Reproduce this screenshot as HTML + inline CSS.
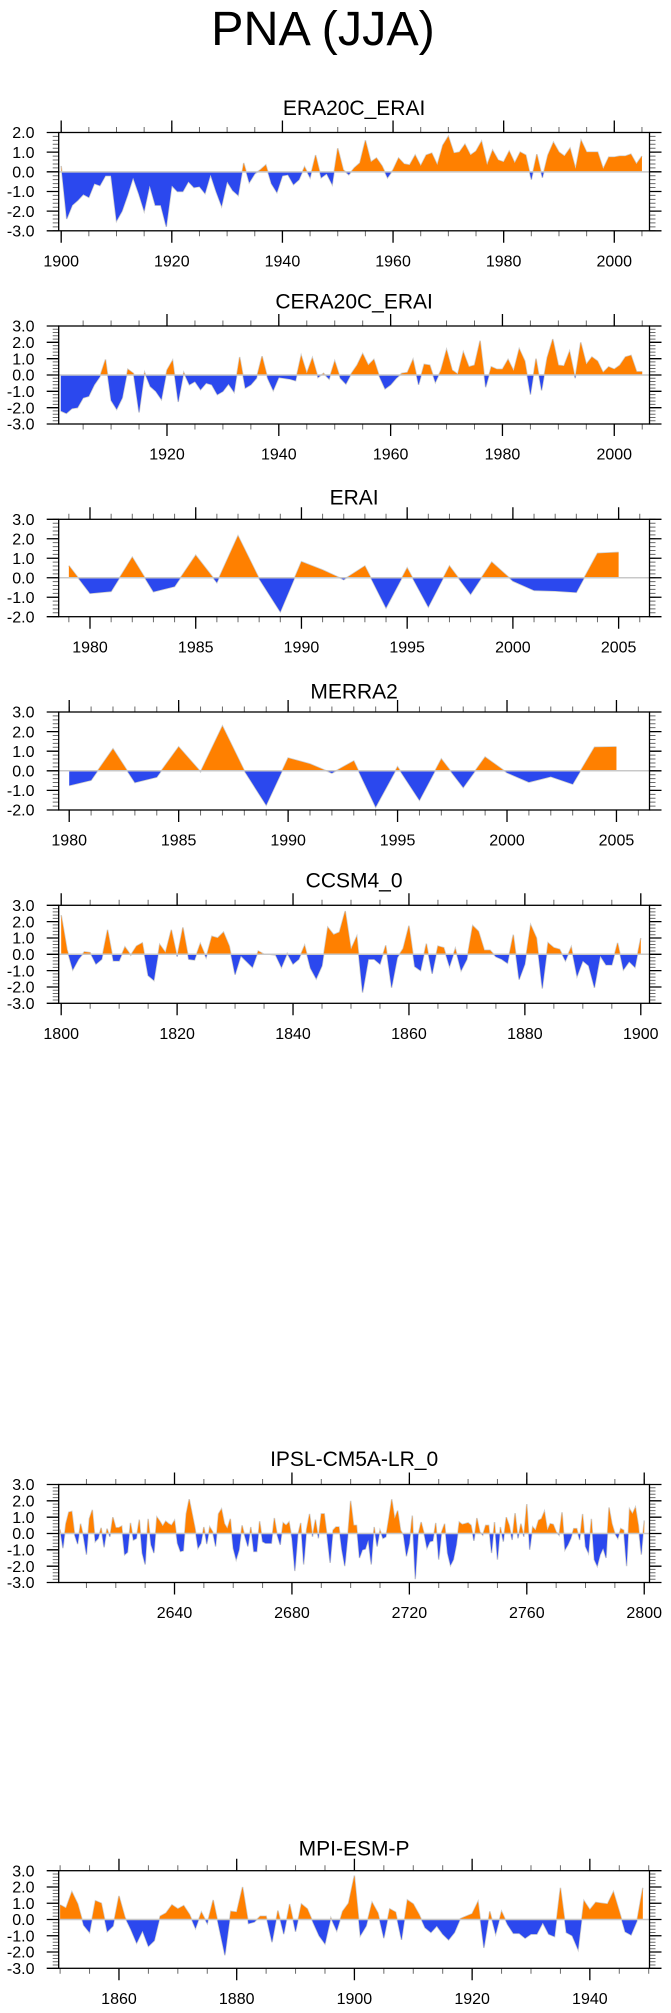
<!DOCTYPE html>
<html><head><meta charset="utf-8"><style>
html,body{margin:0;padding:0;background:#fff;}
svg{display:block;}
text{font-family:"Liberation Sans",Arial,sans-serif;fill:#000;}
.tl{font-size:16px;}
.yl{text-anchor:end;}
.xl{text-anchor:middle;}
.pt{font-size:21px;text-anchor:middle;}
.f{fill:none;stroke:#000;stroke-width:1.3;}
.mj{fill:none;stroke:#000;stroke-width:1.3;}
.mn{fill:none;stroke:#6a6a6a;}
.ln{fill:none;stroke:#cfcfcf;stroke-width:1.5;vector-effect:non-scaling-stroke;}
.po{fill:#ff8000;}
.ne{fill:#2b48ee;}
.zr{stroke:#c8c8c8;stroke-width:1.5;}
</style></head><body>
<svg width="671" height="2013" viewBox="0 0 671 2013" xmlns="http://www.w3.org/2000/svg">
<defs>
<clipPath id="cp" clipPathUnits="userSpaceOnUse"><rect x="-100000" y="0" width="200000" height="100"/></clipPath>
<clipPath id="cn" clipPathUnits="userSpaceOnUse"><rect x="-100000" y="-100" width="200000" height="100"/></clipPath>
</defs>
<rect width="671" height="2013" fill="#fff"/>
<text x="323" y="45" style="font-size:48.5px" text-anchor="middle">PNA (JJA)</text>

<!-- Panel 1 ERA20C_ERAI -->
<text class="pt" x="354.1" y="115">ERA20C_ERAI</text>
<g transform="translate(58.7,171.82) scale(5.531,-19.66) translate(-1899.55,0)">
<polyline class="ln" points="1900,0.3 1901,-2.4 1902,-1.7 1903,-1.45 1904,-1.15 1905,-1.3 1906,-0.6 1907,-0.7 1908,-0.2 1909,-0.2 1910,-2.5 1911,-2 1912,-1.2 1913,-0.3 1914,-1.1 1915,-2 1916,-0.7 1917,-1.7 1918,-1.7 1919,-2.8 1920,-0.7 1921,-1 1922,-1 1923,-0.5 1924,-0.8 1925,-0.75 1926,-1.1 1927,-0.15 1928,-1 1929,-1.75 1930,-0.5 1931,-0.95 1932,-1.2 1933,0.45 1934,-0.55 1935,-0.1 1936,0.1 1937,0.35 1938,-0.6 1939,-1.05 1940,-0.2 1941,-0.15 1942,-0.65 1943,-0.4 1944,0.25 1945,-0.3 1946,0.85 1947,-0.3 1948,-0.1 1949,-0.65 1950,1.2 1951,0.1 1952,-0.15 1953,0.2 1954,0.45 1955,1.6 1956,0.5 1957,0.7 1958,0.3 1959,-0.3 1960,0.1 1961,0.7 1962,0.4 1963,0.35 1964,0.85 1965,0.3 1966,0.85 1967,0.95 1968,0.35 1969,1.35 1970,1.8 1971,0.95 1972,1 1973,1.4 1974,0.85 1975,1.05 1976,1.55 1977,0.35 1978,1.1 1979,0.6 1980,0.5 1981,1.05 1982,0.45 1983,1 1984,0.85 1985,-0.4 1986,0.9 1987,-0.3 1988,0.85 1989,1.5 1990,1 1991,0.8 1992,1.2 1993,0.15 1994,1.6 1995,1 1996,1 1997,1 1998,0.15 1999,0.75 2000,0.75 2001,0.8 2002,0.8 2003,0.9 2004,0.4 2005,0.8"/>
<polygon class="po" clip-path="url(#cp)" points="1900,0 1900,0.3 1901,-2.4 1902,-1.7 1903,-1.45 1904,-1.15 1905,-1.3 1906,-0.6 1907,-0.7 1908,-0.2 1909,-0.2 1910,-2.5 1911,-2 1912,-1.2 1913,-0.3 1914,-1.1 1915,-2 1916,-0.7 1917,-1.7 1918,-1.7 1919,-2.8 1920,-0.7 1921,-1 1922,-1 1923,-0.5 1924,-0.8 1925,-0.75 1926,-1.1 1927,-0.15 1928,-1 1929,-1.75 1930,-0.5 1931,-0.95 1932,-1.2 1933,0.45 1934,-0.55 1935,-0.1 1936,0.1 1937,0.35 1938,-0.6 1939,-1.05 1940,-0.2 1941,-0.15 1942,-0.65 1943,-0.4 1944,0.25 1945,-0.3 1946,0.85 1947,-0.3 1948,-0.1 1949,-0.65 1950,1.2 1951,0.1 1952,-0.15 1953,0.2 1954,0.45 1955,1.6 1956,0.5 1957,0.7 1958,0.3 1959,-0.3 1960,0.1 1961,0.7 1962,0.4 1963,0.35 1964,0.85 1965,0.3 1966,0.85 1967,0.95 1968,0.35 1969,1.35 1970,1.8 1971,0.95 1972,1 1973,1.4 1974,0.85 1975,1.05 1976,1.55 1977,0.35 1978,1.1 1979,0.6 1980,0.5 1981,1.05 1982,0.45 1983,1 1984,0.85 1985,-0.4 1986,0.9 1987,-0.3 1988,0.85 1989,1.5 1990,1 1991,0.8 1992,1.2 1993,0.15 1994,1.6 1995,1 1996,1 1997,1 1998,0.15 1999,0.75 2000,0.75 2001,0.8 2002,0.8 2003,0.9 2004,0.4 2005,0.8 2005,0"/>
<polygon class="ne" clip-path="url(#cn)" points="1900,0 1900,0.3 1901,-2.4 1902,-1.7 1903,-1.45 1904,-1.15 1905,-1.3 1906,-0.6 1907,-0.7 1908,-0.2 1909,-0.2 1910,-2.5 1911,-2 1912,-1.2 1913,-0.3 1914,-1.1 1915,-2 1916,-0.7 1917,-1.7 1918,-1.7 1919,-2.8 1920,-0.7 1921,-1 1922,-1 1923,-0.5 1924,-0.8 1925,-0.75 1926,-1.1 1927,-0.15 1928,-1 1929,-1.75 1930,-0.5 1931,-0.95 1932,-1.2 1933,0.45 1934,-0.55 1935,-0.1 1936,0.1 1937,0.35 1938,-0.6 1939,-1.05 1940,-0.2 1941,-0.15 1942,-0.65 1943,-0.4 1944,0.25 1945,-0.3 1946,0.85 1947,-0.3 1948,-0.1 1949,-0.65 1950,1.2 1951,0.1 1952,-0.15 1953,0.2 1954,0.45 1955,1.6 1956,0.5 1957,0.7 1958,0.3 1959,-0.3 1960,0.1 1961,0.7 1962,0.4 1963,0.35 1964,0.85 1965,0.3 1966,0.85 1967,0.95 1968,0.35 1969,1.35 1970,1.8 1971,0.95 1972,1 1973,1.4 1974,0.85 1975,1.05 1976,1.55 1977,0.35 1978,1.1 1979,0.6 1980,0.5 1981,1.05 1982,0.45 1983,1 1984,0.85 1985,-0.4 1986,0.9 1987,-0.3 1988,0.85 1989,1.5 1990,1 1991,0.8 1992,1.2 1993,0.15 1994,1.6 1995,1 1996,1 1997,1 1998,0.15 1999,0.75 2000,0.75 2001,0.8 2002,0.8 2003,0.9 2004,0.4 2005,0.8 2005,0"/>
</g>
<line class="zr" x1="58.7" y1="171.82" x2="649.5" y2="171.82"/>
<path class="mn" stroke-width="6" stroke-dasharray="1 2.932" d="M55.7 132V231.3M652.5 132V231.3"/>
<path class="mn" stroke-width="5.5" stroke-dasharray="1 26.655" d="M60.69 129.75H642.45M60.69 233.55H642.45"/>
<path class="mj" d="M46.7 132.5H58.7M46.7 152.16H58.7M46.7 171.82H58.7M46.7 191.48H58.7M46.7 211.14H58.7M46.7 230.8H58.7M649.5 132.5H661.5M649.5 152.16H661.5M649.5 171.82H661.5M649.5 191.48H661.5M649.5 211.14H661.5M649.5 230.8H661.5M61.19 132.5V120.5M171.81 132.5V120.5M282.43 132.5V120.5M393.05 132.5V120.5M503.67 132.5V120.5M614.29 132.5V120.5M61.19 230.8V242.8M171.81 230.8V242.8M282.43 230.8V242.8M393.05 230.8V242.8M503.67 230.8V242.8M614.29 230.8V242.8"/>
<rect class="f" x="58.7" y="132.5" width="590.8" height="98.3"/>
<g class="tl yl"><text x="34.5" y="138.2">2.0</text><text x="34.5" y="157.86">1.0</text><text x="34.5" y="177.52">0.0</text><text x="34.5" y="197.18">-1.0</text><text x="34.5" y="216.84">-2.0</text><text x="34.5" y="236.5">-3.0</text></g>
<g class="tl xl"><text x="61.19" y="266.5">1900</text><text x="171.81" y="266.5">1920</text><text x="282.43" y="266.5">1940</text><text x="393.05" y="266.5">1960</text><text x="503.67" y="266.5">1980</text><text x="614.29" y="266.5">2000</text></g>

<!-- Panel 2 CERA20C_ERAI -->
<text class="pt" x="354.1" y="308.3">CERA20C_ERAI</text>
<g transform="translate(58.7,375) scale(5.591,-16.333) translate(-1900.63,0)">
<polyline class="ln" points="1901,-2.2 1902,-2.35 1903,-2.05 1904,-2 1905,-1.4 1906,-1.3 1907,-0.6 1908,-0.1 1909,0.95 1910,-1.55 1911,-2.1 1912,-1.4 1913,0.35 1914,0.1 1915,-2.3 1916,0.15 1917,-0.7 1918,-1 1919,-1.5 1920,0.3 1921,0.9 1922,-1.65 1923,0.15 1924,-0.6 1925,-0.4 1926,-0.9 1927,-0.5 1928,-0.6 1929,-1.2 1930,-1 1931,-0.55 1932,-1.05 1933,1.1 1934,-0.8 1935,-0.6 1936,-0.2 1937,1.15 1938,-0.2 1939,-0.95 1940,-0.15 1941,-0.2 1942,-0.25 1943,-0.35 1944,1.2 1945,0.1 1946,1.05 1947,-0.15 1948,0.1 1949,-0.25 1950,0.85 1951,-0.2 1952,-0.55 1953,0.1 1954,0.6 1955,1.3 1956,0.6 1957,0.95 1958,-0.1 1959,-0.85 1960,-0.6 1961,-0.2 1962,0.1 1963,0.15 1964,0.95 1965,-0.6 1966,0.65 1967,0.6 1968,-0.45 1969,0.3 1970,1.55 1971,0.3 1972,0.05 1973,1.4 1974,0.5 1975,0.6 1976,2.1 1977,-0.75 1978,0.5 1979,0.35 1980,0.35 1981,0.95 1982,0.25 1983,1.6 1984,0.85 1985,-1.2 1986,1 1987,-0.95 1988,1.05 1989,2.2 1990,0.6 1991,0.55 1992,1.45 1993,-0.2 1994,2 1995,0.65 1996,1.1 1997,0.85 1998,0.15 1999,0.5 2000,0.35 2001,0.6 2002,1.1 2003,1.2 2004,0.2 2005,0.2"/>
<polygon class="po" clip-path="url(#cp)" points="1901,0 1901,-2.2 1902,-2.35 1903,-2.05 1904,-2 1905,-1.4 1906,-1.3 1907,-0.6 1908,-0.1 1909,0.95 1910,-1.55 1911,-2.1 1912,-1.4 1913,0.35 1914,0.1 1915,-2.3 1916,0.15 1917,-0.7 1918,-1 1919,-1.5 1920,0.3 1921,0.9 1922,-1.65 1923,0.15 1924,-0.6 1925,-0.4 1926,-0.9 1927,-0.5 1928,-0.6 1929,-1.2 1930,-1 1931,-0.55 1932,-1.05 1933,1.1 1934,-0.8 1935,-0.6 1936,-0.2 1937,1.15 1938,-0.2 1939,-0.95 1940,-0.15 1941,-0.2 1942,-0.25 1943,-0.35 1944,1.2 1945,0.1 1946,1.05 1947,-0.15 1948,0.1 1949,-0.25 1950,0.85 1951,-0.2 1952,-0.55 1953,0.1 1954,0.6 1955,1.3 1956,0.6 1957,0.95 1958,-0.1 1959,-0.85 1960,-0.6 1961,-0.2 1962,0.1 1963,0.15 1964,0.95 1965,-0.6 1966,0.65 1967,0.6 1968,-0.45 1969,0.3 1970,1.55 1971,0.3 1972,0.05 1973,1.4 1974,0.5 1975,0.6 1976,2.1 1977,-0.75 1978,0.5 1979,0.35 1980,0.35 1981,0.95 1982,0.25 1983,1.6 1984,0.85 1985,-1.2 1986,1 1987,-0.95 1988,1.05 1989,2.2 1990,0.6 1991,0.55 1992,1.45 1993,-0.2 1994,2 1995,0.65 1996,1.1 1997,0.85 1998,0.15 1999,0.5 2000,0.35 2001,0.6 2002,1.1 2003,1.2 2004,0.2 2005,0.2 2005,0"/>
<polygon class="ne" clip-path="url(#cn)" points="1901,0 1901,-2.2 1902,-2.35 1903,-2.05 1904,-2 1905,-1.4 1906,-1.3 1907,-0.6 1908,-0.1 1909,0.95 1910,-1.55 1911,-2.1 1912,-1.4 1913,0.35 1914,0.1 1915,-2.3 1916,0.15 1917,-0.7 1918,-1 1919,-1.5 1920,0.3 1921,0.9 1922,-1.65 1923,0.15 1924,-0.6 1925,-0.4 1926,-0.9 1927,-0.5 1928,-0.6 1929,-1.2 1930,-1 1931,-0.55 1932,-1.05 1933,1.1 1934,-0.8 1935,-0.6 1936,-0.2 1937,1.15 1938,-0.2 1939,-0.95 1940,-0.15 1941,-0.2 1942,-0.25 1943,-0.35 1944,1.2 1945,0.1 1946,1.05 1947,-0.15 1948,0.1 1949,-0.25 1950,0.85 1951,-0.2 1952,-0.55 1953,0.1 1954,0.6 1955,1.3 1956,0.6 1957,0.95 1958,-0.1 1959,-0.85 1960,-0.6 1961,-0.2 1962,0.1 1963,0.15 1964,0.95 1965,-0.6 1966,0.65 1967,0.6 1968,-0.45 1969,0.3 1970,1.55 1971,0.3 1972,0.05 1973,1.4 1974,0.5 1975,0.6 1976,2.1 1977,-0.75 1978,0.5 1979,0.35 1980,0.35 1981,0.95 1982,0.25 1983,1.6 1984,0.85 1985,-1.2 1986,1 1987,-0.95 1988,1.05 1989,2.2 1990,0.6 1991,0.55 1992,1.45 1993,-0.2 1994,2 1995,0.65 1996,1.1 1997,0.85 1998,0.15 1999,0.5 2000,0.35 2001,0.6 2002,1.1 2003,1.2 2004,0.2 2005,0.2 2005,0"/>
</g>
<line class="zr" x1="58.7" y1="375" x2="649.5" y2="375"/>
<path class="mn" stroke-width="6" stroke-dasharray="1 2.2667" d="M55.7 325.5V424.5M652.5 325.5V424.5"/>
<path class="mn" stroke-width="5.5" stroke-dasharray="1 26.955" d="M82.63 323.25H642.73M82.63 426.75H642.73"/>
<path class="mj" d="M46.7 326H58.7M46.7 342.33H58.7M46.7 358.67H58.7M46.7 375H58.7M46.7 391.33H58.7M46.7 407.67H58.7M46.7 424H58.7M649.5 326H661.5M649.5 342.33H661.5M649.5 358.67H661.5M649.5 375H661.5M649.5 391.33H661.5M649.5 407.67H661.5M649.5 424H661.5M166.99 326V314M278.81 326V314M390.63 326V314M502.45 326V314M614.27 326V314M166.99 424V436M278.81 424V436M390.63 424V436M502.45 424V436M614.27 424V436"/>
<rect class="f" x="58.7" y="326" width="590.8" height="98"/>
<g class="tl yl"><text x="34.5" y="331.7">3.0</text><text x="34.5" y="348.03">2.0</text><text x="34.5" y="364.37">1.0</text><text x="34.5" y="380.7">0.0</text><text x="34.5" y="397.03">-1.0</text><text x="34.5" y="413.37">-2.0</text><text x="34.5" y="429.7">-3.0</text></g>
<g class="tl xl"><text x="166.99" y="459.7">1920</text><text x="278.81" y="459.7">1940</text><text x="390.63" y="459.7">1960</text><text x="502.45" y="459.7">1980</text><text x="614.27" y="459.7">2000</text></g>

<!-- Panel 3 ERAI -->
<text class="pt" x="354.1" y="504.3">ERAI</text>
<g transform="translate(58.7,577.74) scale(21.145,-19.48) translate(-1978.52,0)">
<polyline class="ln" points="1979,0.62 1980,-0.8 1981,-0.7 1982,1.05 1983,-0.72 1984,-0.45 1985,1.15 1986,-0.25 1987,2.15 1988,-0.05 1989,-1.75 1990,0.82 1991,0.4 1992,-0.1 1993,0.6 1994,-1.55 1995,0.5 1996,-1.5 1997,0.6 1998,-0.85 1999,0.8 2000,-0.17 2001,-0.65 2002,-0.68 2003,-0.75 2004,1.25 2005,1.3"/>
<polygon class="po" clip-path="url(#cp)" points="1979,0 1979,0.62 1980,-0.8 1981,-0.7 1982,1.05 1983,-0.72 1984,-0.45 1985,1.15 1986,-0.25 1987,2.15 1988,-0.05 1989,-1.75 1990,0.82 1991,0.4 1992,-0.1 1993,0.6 1994,-1.55 1995,0.5 1996,-1.5 1997,0.6 1998,-0.85 1999,0.8 2000,-0.17 2001,-0.65 2002,-0.68 2003,-0.75 2004,1.25 2005,1.3 2005,0"/>
<polygon class="ne" clip-path="url(#cn)" points="1979,0 1979,0.62 1980,-0.8 1981,-0.7 1982,1.05 1983,-0.72 1984,-0.45 1985,1.15 1986,-0.25 1987,2.15 1988,-0.05 1989,-1.75 1990,0.82 1991,0.4 1992,-0.1 1993,0.6 1994,-1.55 1995,0.5 1996,-1.5 1997,0.6 1998,-0.85 1999,0.8 2000,-0.17 2001,-0.65 2002,-0.68 2003,-0.75 2004,1.25 2005,1.3 2005,0"/>
</g>
<line class="zr" x1="58.7" y1="577.74" x2="649.5" y2="577.74"/>
<path class="mn" stroke-width="6" stroke-dasharray="1 2.896" d="M55.7 518.8V617.2M652.5 518.8V617.2"/>
<path class="mn" stroke-width="5.5" stroke-dasharray="1 20.145" d="M68.35 516.55H640.27M68.35 619.45H640.27"/>
<path class="mj" d="M46.7 519.3H58.7M46.7 538.78H58.7M46.7 558.26H58.7M46.7 577.74H58.7M46.7 597.22H58.7M46.7 616.7H58.7M649.5 519.3H661.5M649.5 538.78H661.5M649.5 558.26H661.5M649.5 577.74H661.5M649.5 597.22H661.5M649.5 616.7H661.5M90 519.3V507.3M195.72 519.3V507.3M301.45 519.3V507.3M407.17 519.3V507.3M512.9 519.3V507.3M618.62 519.3V507.3M90 616.7V628.7M195.72 616.7V628.7M301.45 616.7V628.7M407.17 616.7V628.7M512.9 616.7V628.7M618.62 616.7V628.7"/>
<rect class="f" x="58.7" y="519.3" width="590.8" height="97.4"/>
<g class="tl yl"><text x="34.5" y="525">3.0</text><text x="34.5" y="544.48">2.0</text><text x="34.5" y="563.96">1.0</text><text x="34.5" y="583.44">0.0</text><text x="34.5" y="602.92">-1.0</text><text x="34.5" y="622.4">-2.0</text></g>
<g class="tl xl"><text x="90" y="652.4">1980</text><text x="195.72" y="652.4">1985</text><text x="301.45" y="652.4">1990</text><text x="407.17" y="652.4">1995</text><text x="512.9" y="652.4">2000</text><text x="618.62" y="652.4">2005</text></g>

<!-- Panel 4 MERRA2 -->
<text class="pt" x="354.1" y="698.3">MERRA2</text>
<g transform="translate(58.7,770.8) scale(21.89,-19.6) translate(-1979.52,0)">
<polyline class="ln" points="1980,-0.75 1981,-0.48 1982,1.12 1983,-0.6 1984,-0.32 1985,1.22 1986,-0.05 1987,2.28 1988,0 1989,-1.75 1990,0.65 1991,0.35 1992,-0.12 1993,0.5 1994,-1.85 1995,0.2 1996,-1.5 1997,0.6 1998,-0.85 1999,0.7 2000,-0.1 2001,-0.58 2002,-0.3 2003,-0.68 2004,1.2 2005,1.22"/>
<polygon class="po" clip-path="url(#cp)" points="1980,0 1980,-0.75 1981,-0.48 1982,1.12 1983,-0.6 1984,-0.32 1985,1.22 1986,-0.05 1987,2.28 1988,0 1989,-1.75 1990,0.65 1991,0.35 1992,-0.12 1993,0.5 1994,-1.85 1995,0.2 1996,-1.5 1997,0.6 1998,-0.85 1999,0.7 2000,-0.1 2001,-0.58 2002,-0.3 2003,-0.68 2004,1.2 2005,1.22 2005,0"/>
<polygon class="ne" clip-path="url(#cn)" points="1980,0 1980,-0.75 1981,-0.48 1982,1.12 1983,-0.6 1984,-0.32 1985,1.22 1986,-0.05 1987,2.28 1988,0 1989,-1.75 1990,0.65 1991,0.35 1992,-0.12 1993,0.5 1994,-1.85 1995,0.2 1996,-1.5 1997,0.6 1998,-0.85 1999,0.7 2000,-0.1 2001,-0.58 2002,-0.3 2003,-0.68 2004,1.2 2005,1.22 2005,0"/>
</g>
<line class="zr" x1="58.7" y1="770.8" x2="649.5" y2="770.8"/>
<path class="mn" stroke-width="6" stroke-dasharray="1 2.92" d="M55.7 711.5V810.5M652.5 711.5V810.5"/>
<path class="mn" stroke-width="5.5" stroke-dasharray="1 20.89" d="M68.71 709.25H638.85M68.71 812.75H638.85"/>
<path class="mj" d="M46.7 712H58.7M46.7 731.6H58.7M46.7 751.2H58.7M46.7 770.8H58.7M46.7 790.4H58.7M46.7 810H58.7M649.5 712H661.5M649.5 731.6H661.5M649.5 751.2H661.5M649.5 770.8H661.5M649.5 790.4H661.5M649.5 810H661.5M69.21 712V700M178.66 712V700M288.11 712V700M397.56 712V700M507.01 712V700M616.46 712V700M69.21 810V822M178.66 810V822M288.11 810V822M397.56 810V822M507.01 810V822M616.46 810V822"/>
<rect class="f" x="58.7" y="712" width="590.8" height="98"/>
<g class="tl yl"><text x="34.5" y="717.7">3.0</text><text x="34.5" y="737.3">2.0</text><text x="34.5" y="756.9">1.0</text><text x="34.5" y="776.5">0.0</text><text x="34.5" y="796.1">-1.0</text><text x="34.5" y="815.7">-2.0</text></g>
<g class="tl xl"><text x="69.21" y="845.7">1980</text><text x="178.66" y="845.7">1985</text><text x="288.11" y="845.7">1990</text><text x="397.56" y="845.7">1995</text><text x="507.01" y="845.7">2000</text><text x="616.46" y="845.7">2005</text></g>

<!-- Panel 5 CCSM4_0 -->
<text class="pt" x="354.1" y="887.3">CCSM4_0</text>
<g transform="translate(58.7,954.3) scale(5.796,-16.333) translate(-1799.57,0)">
<polyline class="ln" points="1800,2.4 1801,0.3 1802,-0.95 1803,-0.3 1804,0.15 1805,0.1 1806,-0.6 1807,-0.3 1808,1.5 1809,-0.4 1810,-0.4 1811,0.45 1812,-0.05 1813,0.5 1814,0.7 1815,-1.3 1816,-1.6 1817,0.6 1818,0.1 1819,1.5 1820,-0.15 1821,1.65 1822,-0.3 1823,-0.35 1824,0.65 1825,-0.2 1826,1.1 1827,1 1828,1.35 1829,0.5 1830,-1.25 1831,-0.1 1832,-0.45 1833,-0.8 1834,0.2 1835,0 1836,0 1837,-0.05 1838,-0.8 1839,0.05 1840,-0.6 1841,-0.3 1842,0.55 1843,-0.85 1844,-1.5 1845,-0.7 1846,1.65 1847,1.2 1848,1.35 1849,2.65 1850,0.3 1851,1.1 1852,-2.35 1853,-0.3 1854,-0.3 1855,-0.6 1856,0.55 1857,-2.05 1858,-0.2 1859,0.35 1860,1.75 1861,-0.75 1862,-1 1863,0.65 1864,-1.2 1865,0.5 1866,0.4 1867,-0.75 1868,0.35 1869,-1 1870,-0.3 1871,1.75 1872,1.4 1873,0.25 1874,0.25 1875,-0.15 1876,-0.3 1877,-0.55 1878,1.2 1879,-1.55 1880,-0.6 1881,1.8 1882,1 1883,-2.1 1884,0.7 1885,0.4 1886,0.3 1887,-0.4 1888,0.45 1889,-1.35 1890,-0.4 1891,-0.7 1892,-2.05 1893,-0.1 1894,-0.65 1895,-0.65 1896,0.7 1897,-0.95 1898,-0.45 1899,-0.8 1900,1"/>
<polygon class="po" clip-path="url(#cp)" points="1800,0 1800,2.4 1801,0.3 1802,-0.95 1803,-0.3 1804,0.15 1805,0.1 1806,-0.6 1807,-0.3 1808,1.5 1809,-0.4 1810,-0.4 1811,0.45 1812,-0.05 1813,0.5 1814,0.7 1815,-1.3 1816,-1.6 1817,0.6 1818,0.1 1819,1.5 1820,-0.15 1821,1.65 1822,-0.3 1823,-0.35 1824,0.65 1825,-0.2 1826,1.1 1827,1 1828,1.35 1829,0.5 1830,-1.25 1831,-0.1 1832,-0.45 1833,-0.8 1834,0.2 1835,0 1836,0 1837,-0.05 1838,-0.8 1839,0.05 1840,-0.6 1841,-0.3 1842,0.55 1843,-0.85 1844,-1.5 1845,-0.7 1846,1.65 1847,1.2 1848,1.35 1849,2.65 1850,0.3 1851,1.1 1852,-2.35 1853,-0.3 1854,-0.3 1855,-0.6 1856,0.55 1857,-2.05 1858,-0.2 1859,0.35 1860,1.75 1861,-0.75 1862,-1 1863,0.65 1864,-1.2 1865,0.5 1866,0.4 1867,-0.75 1868,0.35 1869,-1 1870,-0.3 1871,1.75 1872,1.4 1873,0.25 1874,0.25 1875,-0.15 1876,-0.3 1877,-0.55 1878,1.2 1879,-1.55 1880,-0.6 1881,1.8 1882,1 1883,-2.1 1884,0.7 1885,0.4 1886,0.3 1887,-0.4 1888,0.45 1889,-1.35 1890,-0.4 1891,-0.7 1892,-2.05 1893,-0.1 1894,-0.65 1895,-0.65 1896,0.7 1897,-0.95 1898,-0.45 1899,-0.8 1900,1 1900,0"/>
<polygon class="ne" clip-path="url(#cn)" points="1800,0 1800,2.4 1801,0.3 1802,-0.95 1803,-0.3 1804,0.15 1805,0.1 1806,-0.6 1807,-0.3 1808,1.5 1809,-0.4 1810,-0.4 1811,0.45 1812,-0.05 1813,0.5 1814,0.7 1815,-1.3 1816,-1.6 1817,0.6 1818,0.1 1819,1.5 1820,-0.15 1821,1.65 1822,-0.3 1823,-0.35 1824,0.65 1825,-0.2 1826,1.1 1827,1 1828,1.35 1829,0.5 1830,-1.25 1831,-0.1 1832,-0.45 1833,-0.8 1834,0.2 1835,0 1836,0 1837,-0.05 1838,-0.8 1839,0.05 1840,-0.6 1841,-0.3 1842,0.55 1843,-0.85 1844,-1.5 1845,-0.7 1846,1.65 1847,1.2 1848,1.35 1849,2.65 1850,0.3 1851,1.1 1852,-2.35 1853,-0.3 1854,-0.3 1855,-0.6 1856,0.55 1857,-2.05 1858,-0.2 1859,0.35 1860,1.75 1861,-0.75 1862,-1 1863,0.65 1864,-1.2 1865,0.5 1866,0.4 1867,-0.75 1868,0.35 1869,-1 1870,-0.3 1871,1.75 1872,1.4 1873,0.25 1874,0.25 1875,-0.15 1876,-0.3 1877,-0.55 1878,1.2 1879,-1.55 1880,-0.6 1881,1.8 1882,1 1883,-2.1 1884,0.7 1885,0.4 1886,0.3 1887,-0.4 1888,0.45 1889,-1.35 1890,-0.4 1891,-0.7 1892,-2.05 1893,-0.1 1894,-0.65 1895,-0.65 1896,0.7 1897,-0.95 1898,-0.45 1899,-0.8 1900,1 1900,0"/>
</g>
<line class="zr" x1="58.7" y1="954.3" x2="649.5" y2="954.3"/>
<path class="mn" stroke-width="6" stroke-dasharray="1 2.2667" d="M55.7 904.8V1003.8M652.5 904.8V1003.8"/>
<path class="mn" stroke-width="5.5" stroke-dasharray="1 27.98" d="M60.69 902.55H641.29M60.69 1006.05H641.29"/>
<path class="mj" d="M46.7 905.3H58.7M46.7 921.63H58.7M46.7 937.97H58.7M46.7 954.3H58.7M46.7 970.63H58.7M46.7 986.97H58.7M46.7 1003.3H58.7M649.5 905.3H661.5M649.5 921.63H661.5M649.5 937.97H661.5M649.5 954.3H661.5M649.5 970.63H661.5M649.5 986.97H661.5M649.5 1003.3H661.5M61.19 905.3V893.3M177.11 905.3V893.3M293.03 905.3V893.3M408.95 905.3V893.3M524.87 905.3V893.3M640.79 905.3V893.3M61.19 1003.3V1015.3M177.11 1003.3V1015.3M293.03 1003.3V1015.3M408.95 1003.3V1015.3M524.87 1003.3V1015.3M640.79 1003.3V1015.3"/>
<rect class="f" x="58.7" y="905.3" width="590.8" height="98"/>
<g class="tl yl"><text x="34.5" y="911">3.0</text><text x="34.5" y="927.33">2.0</text><text x="34.5" y="943.67">1.0</text><text x="34.5" y="960">0.0</text><text x="34.5" y="976.33">-1.0</text><text x="34.5" y="992.67">-2.0</text><text x="34.5" y="1009">-3.0</text></g>
<g class="tl xl"><text x="61.19" y="1039">1800</text><text x="177.11" y="1039">1820</text><text x="293.03" y="1039">1840</text><text x="408.95" y="1039">1860</text><text x="524.87" y="1039">1880</text><text x="640.79" y="1039">1900</text></g>

<!-- Panel 6 IPSL-CM5A-LR_0 -->
<text class="pt" x="354.1" y="1466">IPSL-CM5A-LR_0</text>
<g transform="translate(58.7,1533.5) scale(2.9357,-16.333) translate(-2600.55,0)">
<polyline class="ln" points="2601,0.25 2602,-0.9 2603,0.6 2604,1.3 2605,1.35 2606,-0.1 2607,-0.65 2608,0.6 2609,-0.2 2610,-1.3 2611,0.9 2612,1.45 2613,-0.5 2614,-0.3 2615,0.35 2616,-0.85 2617,0.3 2618,-0.2 2619,1 2620,0.35 2621,0.35 2622,0.45 2623,-1.3 2624,-1.15 2625,0.65 2626,-0.4 2627,-0.3 2628,0.85 2629,-1.2 2630,-1.9 2631,0.9 2632,-0.7 2633,-1.2 2634,1 2635,0.75 2636,0.45 2637,0.75 2638,0.6 2639,0.5 2640,0.8 2641,-0.6 2642,-1.1 2643,-1.05 2644,1.2 2645,2.1 2646,1.2 2647,0.3 2648,-0.9 2649,-0.6 2650,0.4 2651,-0.65 2652,0.4 2653,0.1 2654,-0.8 2655,1.2 2656,1.5 2657,0.6 2658,0.3 2659,0.9 2660,-0.9 2661,-1.6 2662,-1 2663,0.5 2664,-0.2 2665,-0.8 2666,0.4 2667,-1.1 2668,-1.1 2669,0.75 2670,-0.5 2671,-0.6 2672,-0.6 2673,-0.6 2674,0.95 2675,-0.1 2676,-0.7 2677,0.65 2678,0.5 2679,0.7 2680,-0.3 2681,-2.3 2682,-0.1 2683,0.65 2684,-1.9 2685,0.25 2686,1.2 2687,-0.2 2688,0.85 2689,-0.3 2690,1.2 2691,1.2 2692,-0.2 2693,-1.8 2694,0.2 2695,0.4 2696,0.4 2697,-1 2698,-2 2699,-0.2 2700,2 2701,0.5 2702,0.5 2703,-1.5 2704,-1 2705,-0.95 2706,-0.4 2707,-1.9 2708,0.4 2709,-0.8 2710,0.2 2711,-0.3 2712,-0.2 2713,0.9 2714,2.1 2715,0.9 2716,1.4 2717,0.2 2718,-0.1 2719,-1.4 2720,-0.6 2721,1.1 2722,-2.8 2723,-0.1 2724,0.7 2725,0 2726,-0.9 2727,-0.5 2728,-0.45 2729,0.65 2730,-1.6 2731,0.1 2732,0.6 2733,-1.2 2734,-1.95 2735,-1.6 2736,-0.7 2737,0.7 2738,0.55 2739,0.6 2740,0.65 2741,0.5 2742,-0.45 2743,0.95 2744,0.1 2745,-0.1 2746,0.5 2747,0.5 2748,-1.2 2749,0.7 2750,-1.6 2751,0.4 2752,-0.5 2753,1 2754,0.5 2755,-0.4 2756,1.25 2757,-0.3 2758,0.6 2759,-0.2 2760,1.8 2761,-1 2762,0.4 2763,0.2 2764,0.8 2765,0.9 2766,1.35 2767,0.2 2768,0.6 2769,0.55 2770,0.1 2771,-0.1 2772,1.3 2773,-1 2774,-0.7 2775,-0.3 2776,0.3 2777,0.3 2778,-0.4 2779,1.2 2780,-0.8 2781,-1.2 2782,0.9 2783,-1.6 2784,-2 2785,-1.3 2786,-0.9 2787,-1.5 2788,1.6 2789,0.6 2790,0 2791,-0.3 2792,0.3 2793,0.2 2794,-2 2795,1.5 2796,1.2 2797,1.6 2798,0.5 2799,-1.3 2800,0.8"/>
<polygon class="po" clip-path="url(#cp)" points="2601,0 2601,0.25 2602,-0.9 2603,0.6 2604,1.3 2605,1.35 2606,-0.1 2607,-0.65 2608,0.6 2609,-0.2 2610,-1.3 2611,0.9 2612,1.45 2613,-0.5 2614,-0.3 2615,0.35 2616,-0.85 2617,0.3 2618,-0.2 2619,1 2620,0.35 2621,0.35 2622,0.45 2623,-1.3 2624,-1.15 2625,0.65 2626,-0.4 2627,-0.3 2628,0.85 2629,-1.2 2630,-1.9 2631,0.9 2632,-0.7 2633,-1.2 2634,1 2635,0.75 2636,0.45 2637,0.75 2638,0.6 2639,0.5 2640,0.8 2641,-0.6 2642,-1.1 2643,-1.05 2644,1.2 2645,2.1 2646,1.2 2647,0.3 2648,-0.9 2649,-0.6 2650,0.4 2651,-0.65 2652,0.4 2653,0.1 2654,-0.8 2655,1.2 2656,1.5 2657,0.6 2658,0.3 2659,0.9 2660,-0.9 2661,-1.6 2662,-1 2663,0.5 2664,-0.2 2665,-0.8 2666,0.4 2667,-1.1 2668,-1.1 2669,0.75 2670,-0.5 2671,-0.6 2672,-0.6 2673,-0.6 2674,0.95 2675,-0.1 2676,-0.7 2677,0.65 2678,0.5 2679,0.7 2680,-0.3 2681,-2.3 2682,-0.1 2683,0.65 2684,-1.9 2685,0.25 2686,1.2 2687,-0.2 2688,0.85 2689,-0.3 2690,1.2 2691,1.2 2692,-0.2 2693,-1.8 2694,0.2 2695,0.4 2696,0.4 2697,-1 2698,-2 2699,-0.2 2700,2 2701,0.5 2702,0.5 2703,-1.5 2704,-1 2705,-0.95 2706,-0.4 2707,-1.9 2708,0.4 2709,-0.8 2710,0.2 2711,-0.3 2712,-0.2 2713,0.9 2714,2.1 2715,0.9 2716,1.4 2717,0.2 2718,-0.1 2719,-1.4 2720,-0.6 2721,1.1 2722,-2.8 2723,-0.1 2724,0.7 2725,0 2726,-0.9 2727,-0.5 2728,-0.45 2729,0.65 2730,-1.6 2731,0.1 2732,0.6 2733,-1.2 2734,-1.95 2735,-1.6 2736,-0.7 2737,0.7 2738,0.55 2739,0.6 2740,0.65 2741,0.5 2742,-0.45 2743,0.95 2744,0.1 2745,-0.1 2746,0.5 2747,0.5 2748,-1.2 2749,0.7 2750,-1.6 2751,0.4 2752,-0.5 2753,1 2754,0.5 2755,-0.4 2756,1.25 2757,-0.3 2758,0.6 2759,-0.2 2760,1.8 2761,-1 2762,0.4 2763,0.2 2764,0.8 2765,0.9 2766,1.35 2767,0.2 2768,0.6 2769,0.55 2770,0.1 2771,-0.1 2772,1.3 2773,-1 2774,-0.7 2775,-0.3 2776,0.3 2777,0.3 2778,-0.4 2779,1.2 2780,-0.8 2781,-1.2 2782,0.9 2783,-1.6 2784,-2 2785,-1.3 2786,-0.9 2787,-1.5 2788,1.6 2789,0.6 2790,0 2791,-0.3 2792,0.3 2793,0.2 2794,-2 2795,1.5 2796,1.2 2797,1.6 2798,0.5 2799,-1.3 2800,0.8 2800,0"/>
<polygon class="ne" clip-path="url(#cn)" points="2601,0 2601,0.25 2602,-0.9 2603,0.6 2604,1.3 2605,1.35 2606,-0.1 2607,-0.65 2608,0.6 2609,-0.2 2610,-1.3 2611,0.9 2612,1.45 2613,-0.5 2614,-0.3 2615,0.35 2616,-0.85 2617,0.3 2618,-0.2 2619,1 2620,0.35 2621,0.35 2622,0.45 2623,-1.3 2624,-1.15 2625,0.65 2626,-0.4 2627,-0.3 2628,0.85 2629,-1.2 2630,-1.9 2631,0.9 2632,-0.7 2633,-1.2 2634,1 2635,0.75 2636,0.45 2637,0.75 2638,0.6 2639,0.5 2640,0.8 2641,-0.6 2642,-1.1 2643,-1.05 2644,1.2 2645,2.1 2646,1.2 2647,0.3 2648,-0.9 2649,-0.6 2650,0.4 2651,-0.65 2652,0.4 2653,0.1 2654,-0.8 2655,1.2 2656,1.5 2657,0.6 2658,0.3 2659,0.9 2660,-0.9 2661,-1.6 2662,-1 2663,0.5 2664,-0.2 2665,-0.8 2666,0.4 2667,-1.1 2668,-1.1 2669,0.75 2670,-0.5 2671,-0.6 2672,-0.6 2673,-0.6 2674,0.95 2675,-0.1 2676,-0.7 2677,0.65 2678,0.5 2679,0.7 2680,-0.3 2681,-2.3 2682,-0.1 2683,0.65 2684,-1.9 2685,0.25 2686,1.2 2687,-0.2 2688,0.85 2689,-0.3 2690,1.2 2691,1.2 2692,-0.2 2693,-1.8 2694,0.2 2695,0.4 2696,0.4 2697,-1 2698,-2 2699,-0.2 2700,2 2701,0.5 2702,0.5 2703,-1.5 2704,-1 2705,-0.95 2706,-0.4 2707,-1.9 2708,0.4 2709,-0.8 2710,0.2 2711,-0.3 2712,-0.2 2713,0.9 2714,2.1 2715,0.9 2716,1.4 2717,0.2 2718,-0.1 2719,-1.4 2720,-0.6 2721,1.1 2722,-2.8 2723,-0.1 2724,0.7 2725,0 2726,-0.9 2727,-0.5 2728,-0.45 2729,0.65 2730,-1.6 2731,0.1 2732,0.6 2733,-1.2 2734,-1.95 2735,-1.6 2736,-0.7 2737,0.7 2738,0.55 2739,0.6 2740,0.65 2741,0.5 2742,-0.45 2743,0.95 2744,0.1 2745,-0.1 2746,0.5 2747,0.5 2748,-1.2 2749,0.7 2750,-1.6 2751,0.4 2752,-0.5 2753,1 2754,0.5 2755,-0.4 2756,1.25 2757,-0.3 2758,0.6 2759,-0.2 2760,1.8 2761,-1 2762,0.4 2763,0.2 2764,0.8 2765,0.9 2766,1.35 2767,0.2 2768,0.6 2769,0.55 2770,0.1 2771,-0.1 2772,1.3 2773,-1 2774,-0.7 2775,-0.3 2776,0.3 2777,0.3 2778,-0.4 2779,1.2 2780,-0.8 2781,-1.2 2782,0.9 2783,-1.6 2784,-2 2785,-1.3 2786,-0.9 2787,-1.5 2788,1.6 2789,0.6 2790,0 2791,-0.3 2792,0.3 2793,0.2 2794,-2 2795,1.5 2796,1.2 2797,1.6 2798,0.5 2799,-1.3 2800,0.8 2800,0"/>
</g>
<line class="zr" x1="58.7" y1="1533.5" x2="649.5" y2="1533.5"/>
<path class="mn" stroke-width="6" stroke-dasharray="1 2.2667" d="M55.7 1484V1583M652.5 1484V1583"/>
<path class="mn" stroke-width="5.5" stroke-dasharray="1 28.357" d="M85.94 1481.75H644.73M85.94 1585.25H644.73"/>
<path class="mj" d="M46.7 1484.5H58.7M46.7 1500.83H58.7M46.7 1517.17H58.7M46.7 1533.5H58.7M46.7 1549.83H58.7M46.7 1566.17H58.7M46.7 1582.5H58.7M649.5 1484.5H661.5M649.5 1500.83H661.5M649.5 1517.17H661.5M649.5 1533.5H661.5M649.5 1549.83H661.5M649.5 1566.17H661.5M649.5 1582.5H661.5M174.51 1484.5V1472.5M291.94 1484.5V1472.5M409.37 1484.5V1472.5M526.8 1484.5V1472.5M644.23 1484.5V1472.5M174.51 1582.5V1594.5M291.94 1582.5V1594.5M409.37 1582.5V1594.5M526.8 1582.5V1594.5M644.23 1582.5V1594.5"/>
<rect class="f" x="58.7" y="1484.5" width="590.8" height="98"/>
<g class="tl yl"><text x="34.5" y="1490.2">3.0</text><text x="34.5" y="1506.53">2.0</text><text x="34.5" y="1522.87">1.0</text><text x="34.5" y="1539.2">0.0</text><text x="34.5" y="1555.53">-1.0</text><text x="34.5" y="1571.87">-2.0</text><text x="34.5" y="1588.2">-3.0</text></g>
<g class="tl xl"><text x="174.51" y="1618.2">2640</text><text x="291.94" y="1618.2">2680</text><text x="409.37" y="1618.2">2720</text><text x="526.8" y="1618.2">2760</text><text x="644.23" y="1618.2">2800</text></g>

<!-- Panel 7 MPI-ESM-P -->
<text class="pt" x="354.1" y="1855.7">MPI-ESM-P</text>
<g transform="translate(58.7,1919.5) scale(5.886,-16.267) translate(-1849.76,0)">
<polyline class="ln" points="1850,0.9 1851,0.7 1852,1.7 1853,0.95 1854,-0.35 1855,-0.8 1856,1.15 1857,1 1858,-0.75 1859,-0.4 1860,1.45 1861,0.15 1862,-0.6 1863,-1.45 1864,-0.7 1865,-1.65 1866,-1.3 1867,0.2 1868,0.4 1869,0.9 1870,0.65 1871,0.85 1872,0.3 1873,-0.55 1874,0.45 1875,-0.25 1876,1.2 1877,-0.5 1878,-2.2 1879,0.5 1880,0.45 1881,2 1882,-0.25 1883,-0.15 1884,0.2 1885,0.2 1886,-1.4 1887,0.55 1888,-0.9 1889,0.95 1890,-0.75 1891,0.95 1892,0.65 1893,-0.2 1894,-1 1895,-1.5 1896,0.1 1897,-0.7 1898,0.5 1899,1 1900,2.7 1901,-1 1902,-0.4 1903,1.05 1904,0.4 1905,-1.15 1906,0.65 1907,0.45 1908,-1.25 1909,1.2 1910,0.95 1911,0.3 1912,-0.5 1913,-0.8 1914,-0.4 1915,-0.9 1916,-1.25 1917,-0.8 1918,0.05 1919,0.2 1920,0.35 1921,1.1 1922,-1.75 1923,0.5 1924,-0.9 1925,0.5 1926,-0.3 1927,-0.85 1928,-0.85 1929,-1.15 1930,-0.9 1931,-0.9 1932,-0.2 1933,-0.9 1934,-1.05 1935,1.95 1936,-0.8 1937,-1 1938,-1.85 1939,1.15 1940,0.6 1941,1.05 1942,1 1943,0.95 1944,1.7 1945,0.5 1946,-0.75 1947,-0.95 1948,-0.1 1949,1.95"/>
<polygon class="po" clip-path="url(#cp)" points="1850,0 1850,0.9 1851,0.7 1852,1.7 1853,0.95 1854,-0.35 1855,-0.8 1856,1.15 1857,1 1858,-0.75 1859,-0.4 1860,1.45 1861,0.15 1862,-0.6 1863,-1.45 1864,-0.7 1865,-1.65 1866,-1.3 1867,0.2 1868,0.4 1869,0.9 1870,0.65 1871,0.85 1872,0.3 1873,-0.55 1874,0.45 1875,-0.25 1876,1.2 1877,-0.5 1878,-2.2 1879,0.5 1880,0.45 1881,2 1882,-0.25 1883,-0.15 1884,0.2 1885,0.2 1886,-1.4 1887,0.55 1888,-0.9 1889,0.95 1890,-0.75 1891,0.95 1892,0.65 1893,-0.2 1894,-1 1895,-1.5 1896,0.1 1897,-0.7 1898,0.5 1899,1 1900,2.7 1901,-1 1902,-0.4 1903,1.05 1904,0.4 1905,-1.15 1906,0.65 1907,0.45 1908,-1.25 1909,1.2 1910,0.95 1911,0.3 1912,-0.5 1913,-0.8 1914,-0.4 1915,-0.9 1916,-1.25 1917,-0.8 1918,0.05 1919,0.2 1920,0.35 1921,1.1 1922,-1.75 1923,0.5 1924,-0.9 1925,0.5 1926,-0.3 1927,-0.85 1928,-0.85 1929,-1.15 1930,-0.9 1931,-0.9 1932,-0.2 1933,-0.9 1934,-1.05 1935,1.95 1936,-0.8 1937,-1 1938,-1.85 1939,1.15 1940,0.6 1941,1.05 1942,1 1943,0.95 1944,1.7 1945,0.5 1946,-0.75 1947,-0.95 1948,-0.1 1949,1.95 1949,0"/>
<polygon class="ne" clip-path="url(#cn)" points="1850,0 1850,0.9 1851,0.7 1852,1.7 1853,0.95 1854,-0.35 1855,-0.8 1856,1.15 1857,1 1858,-0.75 1859,-0.4 1860,1.45 1861,0.15 1862,-0.6 1863,-1.45 1864,-0.7 1865,-1.65 1866,-1.3 1867,0.2 1868,0.4 1869,0.9 1870,0.65 1871,0.85 1872,0.3 1873,-0.55 1874,0.45 1875,-0.25 1876,1.2 1877,-0.5 1878,-2.2 1879,0.5 1880,0.45 1881,2 1882,-0.25 1883,-0.15 1884,0.2 1885,0.2 1886,-1.4 1887,0.55 1888,-0.9 1889,0.95 1890,-0.75 1891,0.95 1892,0.65 1893,-0.2 1894,-1 1895,-1.5 1896,0.1 1897,-0.7 1898,0.5 1899,1 1900,2.7 1901,-1 1902,-0.4 1903,1.05 1904,0.4 1905,-1.15 1906,0.65 1907,0.45 1908,-1.25 1909,1.2 1910,0.95 1911,0.3 1912,-0.5 1913,-0.8 1914,-0.4 1915,-0.9 1916,-1.25 1917,-0.8 1918,0.05 1919,0.2 1920,0.35 1921,1.1 1922,-1.75 1923,0.5 1924,-0.9 1925,0.5 1926,-0.3 1927,-0.85 1928,-0.85 1929,-1.15 1930,-0.9 1931,-0.9 1932,-0.2 1933,-0.9 1934,-1.05 1935,1.95 1936,-0.8 1937,-1 1938,-1.85 1939,1.15 1940,0.6 1941,1.05 1942,1 1943,0.95 1944,1.7 1945,0.5 1946,-0.75 1947,-0.95 1948,-0.1 1949,1.95 1949,0"/>
</g>
<line class="zr" x1="58.7" y1="1919.5" x2="649.5" y2="1919.5"/>
<path class="mn" stroke-width="6" stroke-dasharray="1 2.2533" d="M55.7 1870.2V1968.8M652.5 1870.2V1968.8"/>
<path class="mn" stroke-width="5.5" stroke-dasharray="1 28.43" d="M59.61 1867.95H649.21M59.61 1971.05H649.21"/>
<path class="mj" d="M46.7 1870.7H58.7M46.7 1886.97H58.7M46.7 1903.23H58.7M46.7 1919.5H58.7M46.7 1935.77H58.7M46.7 1952.03H58.7M46.7 1968.3H58.7M649.5 1870.7H661.5M649.5 1886.97H661.5M649.5 1903.23H661.5M649.5 1919.5H661.5M649.5 1935.77H661.5M649.5 1952.03H661.5M649.5 1968.3H661.5M118.97 1870.7V1858.7M236.69 1870.7V1858.7M354.41 1870.7V1858.7M472.13 1870.7V1858.7M589.85 1870.7V1858.7M118.97 1968.3V1980.3M236.69 1968.3V1980.3M354.41 1968.3V1980.3M472.13 1968.3V1980.3M589.85 1968.3V1980.3"/>
<rect class="f" x="58.7" y="1870.7" width="590.8" height="97.6"/>
<g class="tl yl"><text x="34.5" y="1876.4">3.0</text><text x="34.5" y="1892.67">2.0</text><text x="34.5" y="1908.93">1.0</text><text x="34.5" y="1925.2">0.0</text><text x="34.5" y="1941.47">-1.0</text><text x="34.5" y="1957.73">-2.0</text><text x="34.5" y="1974">-3.0</text></g>
<g class="tl xl"><text x="118.97" y="2004">1860</text><text x="236.69" y="2004">1880</text><text x="354.41" y="2004">1900</text><text x="472.13" y="2004">1920</text><text x="589.85" y="2004">1940</text></g>
</svg>
</body></html>
